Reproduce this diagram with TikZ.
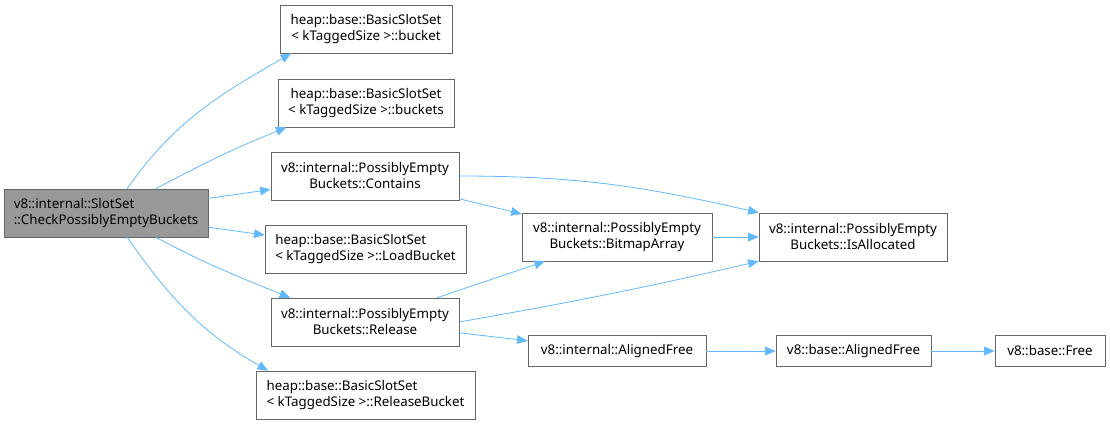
\documentclass[tikz,border=0pt]{standalone}
\usepackage{fontspec}
\setmainfont{Noto Sans}
\usetikzlibrary{arrows.meta}

\definecolor{edgeblue}{HTML}{63B8FF}
\definecolor{boxgray}{HTML}{666666}
\definecolor{maingray}{HTML}{999999}

\begin{document}
\begin{tikzpicture}[x=0.75pt, y=-0.75pt,
    fn/.style={draw=boxgray, fill=white, font=\fontsize{10}{12}\selectfont,
      align=center, minimum height=36pt, inner xsep=2pt, inner ysep=0pt},
    fnone/.style={fn, minimum height=23.25pt},
    call/.style={draw=edgeblue, line width=0.6pt,
      -{Triangle[length=8pt, width=6.5pt]}}]
  \useasboundingbox (0,0) rectangle (1110,426);

  %% --- caller ---
  \node[fn, fill=maingray, align=left, minimum width=153pt] (main) at (106,213)
    {v8::internal::SlotSet\\::CheckPossiblyEmptyBuckets};

  %% --- first column of callees ---
  \node[fn, minimum width=129pt] (bucket) at (366,29)
    {heap::base::BasicSlotSet\\< kTaggedSize >::bucket};
  \node[fn, minimum width=132pt] (buckets) at (366,103)
    {heap::base::BasicSlotSet\\< kTaggedSize >::buckets};
  \node[fn, minimum width=141pt] (contains) at (365,176)
    {v8::internal::PossiblyEmpty\\Buckets::Contains};
  \node[fn, align=left, minimum width=150.75pt] (loadbkt) at (365.5,249)
    {heap::base::BasicSlotSet\\< kTaggedSize >::LoadBucket};
  \node[fn, minimum width=141pt] (release) at (365,322)
    {v8::internal::PossiblyEmpty\\Buckets::Release};
  \node[fn, align=left, minimum width=164.25pt] (relbkt) at (365.5,395)
    {heap::base::BasicSlotSet\\< kTaggedSize >::ReleaseBucket};

  %% --- deeper callees ---
  \node[fn, minimum width=142.5pt] (bitmap) at (617,237)
    {v8::internal::PossiblyEmpty\\Buckets::BitmapArray};
  \node[fn, minimum width=141pt] (isalloc) at (853,237)
    {v8::internal::PossiblyEmpty\\Buckets::IsAllocated};
  \node[fnone, minimum width=133.5pt] (alfree) at (617,351)
    {v8::internal::AlignedFree};
  \node[fnone, minimum width=116.25pt] (basealfree) at (853.5,351)
    {v8::base::AlignedFree};
  \node[fnone, minimum width=82.5pt] (basefree) at (1050,351)
    {v8::base::Free};

  %% --- calls from the caller ---
  \draw[call] (main.49) to[out=55, in=210] (bucket.198);
  \draw[call] (main.26) to[out=28, in=202] (buckets.197);
  \draw[call] (main) -- (contains);
  \draw[call] (main) -- (loadbkt);
  \draw[call] (main.-26) to[out=-28, in=158] (release.162);
  \draw[call] (main.-49) to[out=-55, in=150] (relbkt.166);

  %% --- calls further down ---
  \draw[call] (contains) -- (bitmap);
  \draw[call] (contains.east) to[out=0, in=167] (isalloc.north west);
  \draw[call] (bitmap) -- (isalloc);
  \draw[call] (release) -- (bitmap);
  \draw[call] (release.east) to[out=10, in=193] (isalloc.south west);
  \draw[call] (release) -- (alfree);
  \draw[call] (alfree) -- (basealfree);
  \draw[call] (basealfree) -- (basefree);
\end{tikzpicture}
\end{document}
